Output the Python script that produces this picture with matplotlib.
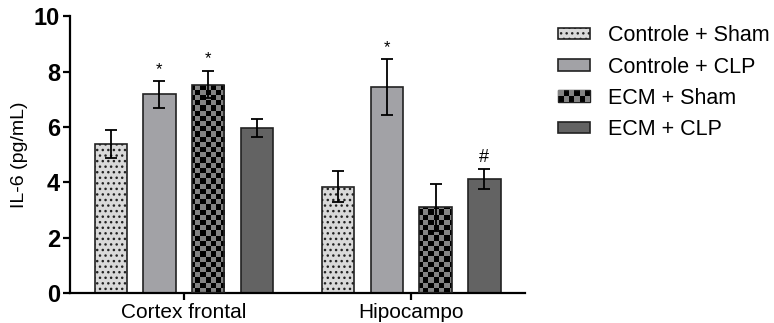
import numpy as np
import matplotlib.pyplot as plt
from matplotlib.patches import Rectangle
from matplotlib.colors import ListedColormap
from matplotlib.legend_handler import HandlerBase

plt.rcParams['font.family'] = ['Liberation Sans', 'DejaVu Sans']
plt.rcParams['hatch.linewidth'] = 1.0

# ---- datos ----
regioes = ["Cortex frontal", "Hipocampo"]
grupos = ["Controle + Sham", "Controle + CLP", "ECM + Sham", "ECM + CLP"]
medias = [
    [5.38, 3.84],   # Controle + Sham
    [7.17, 7.44],   # Controle + CLP
    [7.53, 3.09],   # ECM + Sham
    [5.97, 4.13],   # ECM + CLP
]
erros = [
    [0.52, 0.57],
    [0.48, 1.01],
    [0.50, 0.84],
    [0.32, 0.36],
]
marcas = [
    ["", ""],
    ["*", "*"],
    ["*", ""],
    ["", "#"],
]

cores = ["#d9d9d9", "#a2a2a6", "#000000", "#636363"]
hatches = ["...", None, None, None]
CHECK_GRAY = "#828282"

fig = plt.figure(figsize=(7.74, 3.23), dpi=100)
ax = fig.add_axes([0.0904, 0.093, 0.588, 0.857])

x = np.arange(len(regioes))
largura = 0.142
passo = 0.214


def checker_image(ax, bar, cell_px=5.2):
    # tabuleiro de xadrez recortado pela barra
    fig.canvas.draw()
    bb = ax.get_window_extent()
    nx = int(bb.width / cell_px) + 1
    ny = int(bb.height / cell_px) + 1
    img = (np.indices((ny, nx)).sum(axis=0) % 2).astype(float)
    x0, x1 = ax.get_xlim()
    y0, y1 = ax.get_ylim()
    x1b = x0 + (x1 - x0) * nx * cell_px / bb.width
    y1b = y0 + (y1 - y0) * ny * cell_px / bb.height
    im = ax.imshow(img, extent=(x0, x1b, y0, y1b), origin="lower",
                   cmap=ListedColormap(["#000000", CHECK_GRAY]),
                   interpolation="nearest", aspect="auto", zorder=2.5)
    im.set_clip_path(bar)
    ax.set_xlim(x0, x1)
    ax.set_ylim(y0, y1)


ax.set_xlim(-0.5, 1.5)
ax.set_ylim(0, 10)

barras = []
for i, g in enumerate(grupos):
    pos = x + (i - 1.5) * passo
    bc = ax.bar(pos, medias[i], largura, color=cores[i], edgecolor="#222222",
                linewidth=1.2, hatch=hatches[i], label=g, zorder=2)
    barras.append(bc)
    ax.errorbar(pos, medias[i], yerr=erros[i], fmt="none", ecolor="black",
                elinewidth=1.3, capsize=4, capthick=1.3, zorder=4)
    for j in range(len(regioes)):
        if marcas[i][j]:
            topo = medias[i][j] + erros[i][j]
            if marcas[i][j] == "*":
                ax.text(pos[j], topo + 0.42, "*", ha="center", va="center", fontsize=12)
            else:
                ax.text(pos[j], topo + 0.42, "#", ha="center", va="center", fontsize=13)

for b in barras[2]:
    checker_image(ax, b)
    b.set_facecolor("none")
    b.set_zorder(3)

for s in ["top", "right"]:
    ax.spines[s].set_visible(False)
for s in ["left", "bottom"]:
    ax.spines[s].set_linewidth(1.6)

ax.set_yticks([0, 2, 4, 6, 8, 10])
ax.set_yticklabels(["0", "2", "4", "6", "8", "10"], fontsize=17, fontweight="bold")
ax.set_xticks(x)
ax.set_xticklabels(regioes, fontsize=15)
ax.tick_params(axis="both", width=1.6, length=5, direction="out", pad=2)
ax.set_ylabel("IL-6 (pg/mL)", fontsize=14, labelpad=4)


class HandlerXadrez(HandlerBase):
    def create_artists(self, legend, orig_handle, xdescent, ydescent,
                       width, height, fontsize, trans):
        arts = [Rectangle((-xdescent, -ydescent), width, height,
                          facecolor="black", edgecolor="#222222", lw=1.0,
                          transform=trans)]
        nx, ny = 6, 2
        cw, ch = width / nx, height / ny
        for r in range(ny):
            for c in range(nx):
                if (r + c) % 2:
                    arts.append(Rectangle((-xdescent + c * cw, -ydescent + r * ch), cw, ch,
                                          facecolor=CHECK_GRAY, edgecolor="none",
                                          transform=trans))
        return arts


handles = [barras[0][0], barras[1][0], barras[2][0], barras[3][0]]
leg = fig.legend(handles, grupos, loc="upper left", bbox_to_anchor=(0.699, 0.975),
                 frameon=False, fontsize=15.5, handlelength=1.49, handleheight=0.46,
                 labelspacing=0.48, handletextpad=0.84, borderpad=0.3,
                 handler_map={barras[2][0]: HandlerXadrez()})

fig.savefig("out.png", dpi=100)
